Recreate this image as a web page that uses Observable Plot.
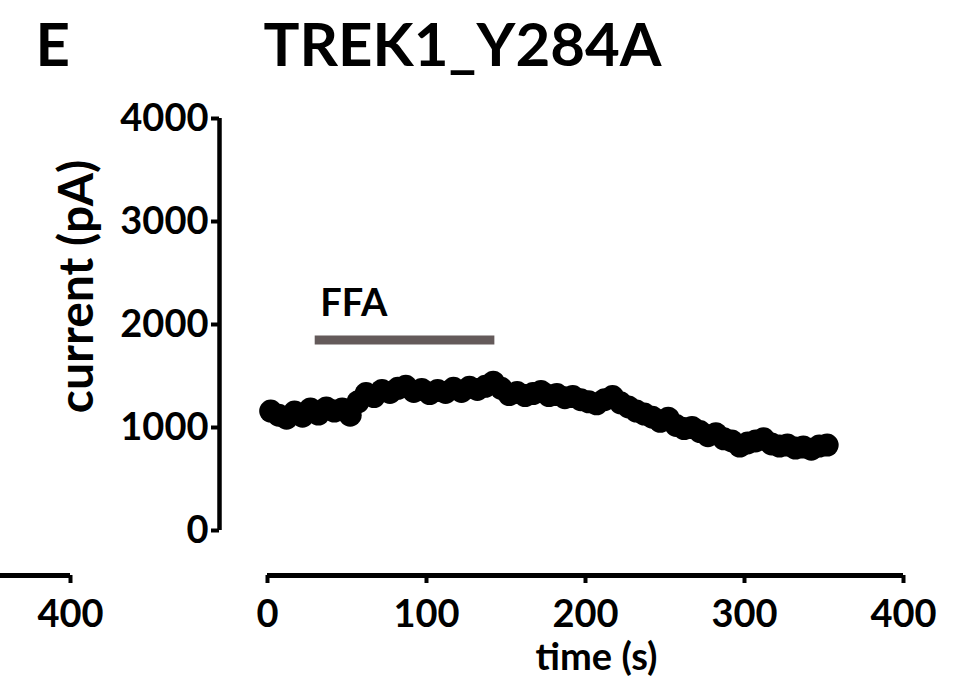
<!DOCTYPE html>
<html>
<head>
<meta charset="utf-8">
<script src="https://cdn.jsdelivr.net/npm/d3@7"></script>
<script src="https://cdn.jsdelivr.net/npm/@observablehq/plot@0.6"></script>
<style>
  body { margin: 0; background: #fff; }
  #chart { position: relative; width: 971px; height: 696px; overflow: hidden; }
  #chart svg { position: absolute; left: 0; top: 0; }
</style>
</head>
<body>
<div id="chart"></div>
<script>
// Whole-cell current of TREK1_Y284A recorded over time, FFA applied ~30–143 s
const timeS = [
  2, 7, 12, 17, 22, 27, 32, 37, 42, 47,
  52, 57, 62, 67, 72, 77, 82, 87, 92, 97,
  102, 107, 112, 117, 122, 127, 132, 137, 142, 147,
  152, 157, 162, 167, 172, 177, 182, 187, 192, 197,
  202, 207, 212, 217, 222, 227, 232, 237, 242, 247,
  252, 257, 262, 267, 272, 277, 282, 287, 292, 297,
  302, 307, 312, 317, 322, 327, 332, 337, 342, 347, 352
];
const currentPA = [
  1160, 1120, 1090, 1150, 1110, 1180, 1130, 1190, 1160, 1180,
  1120, 1250, 1330, 1300, 1360, 1340, 1380, 1400, 1350, 1370,
  1330, 1360, 1340, 1380, 1350, 1390, 1370, 1400, 1440, 1380,
  1320, 1340, 1310, 1330, 1350, 1310, 1320, 1290, 1300, 1270,
  1250, 1230, 1270, 1300, 1240, 1200, 1160, 1130, 1100, 1060,
  1090, 1020, 990, 1000, 960, 920, 940, 890, 870, 820,
  850, 870, 890, 840, 820, 830, 800, 810, 790, 820, 830
];
const xTicks = [0, 100, 200, 300, 400];
const yTicks = [0, 1000, 2000, 3000, 4000];
const drugName = "FFA";
const drugStart = 30;
const drugEnd = 143;
const drugLevel = 1850;
const titleText = "TREK1_Y284A";
const panelLetter = "E";
const xLabel = "time (s)";
const yLabel = "current (pA)";
// neighbouring panel's time axis, only its right end is visible
const prevPanelX = [356, 400];
const prevPanelTicks = [400];

const series = timeS.map((t, i) => ({t, i: currentPA[i]}));
const drug = [{start: drugStart, end: drugEnd, level: drugLevel, name: drugName}];

const font = "Lato, 'Open Sans', sans-serif";
const axisStyle = {fontSize: 38, fontWeight: 700, label: null, strokeWidth: 4, tickFormat: d => String(d)};

const side = Plot.plot({
  width: 110, height: 696,
  marginLeft: 0, marginRight: 40, marginTop: 118, marginBottom: 166,
  x: {domain: prevPanelX},
  y: {domain: [0, 4000], axis: null},
  style: {fontFamily: font, fontWeight: 700, background: "none", color: "#000", overflow: "visible"},
  marks: [
    Plot.ruleY([0], {x1: prevPanelX[0], x2: prevPanelX[1], dy: 45, strokeWidth: 5}),
    Plot.axisX({...axisStyle, ticks: prevPanelTicks, tickSize: 8, tickPadding: 17, dy: 45})
  ]
});

const main = Plot.plot({
  width: 971, height: 696,
  marginLeft: 267, marginRight: 68, marginTop: 118, marginBottom: 166,
  x: {domain: [0, 400]},
  y: {domain: [0, 4000]},
  style: {fontFamily: font, fontWeight: 700, background: "none", color: "#000", overflow: "visible"},
  marks: [
    // offset axes
    Plot.ruleX([0], {y1: 0, y2: 4000, dx: -48, strokeWidth: 4.5}),
    Plot.axisY({...axisStyle, ticks: yTicks, tickSize: 8, tickPadding: 3, dx: -48}),
    Plot.ruleY([0], {x1: 0, x2: 400, dy: 45, strokeWidth: 5}),
    Plot.axisX({...axisStyle, ticks: xTicks, tickSize: 8, tickPadding: 17, dy: 45}),
    // drug application bar
    Plot.ruleY(drug, {x1: "start", x2: "end", y: "level", stroke: "#645a5a", strokeWidth: 9}),
    Plot.text(drug, {x: "start", y: "level", text: "name", textAnchor: "start", dx: 5, dy: -36,
      fontSize: 38, fontWeight: 700}),
    // recorded current
    Plot.dot(series, {x: "t", y: "i", r: 11.5, fill: "#000", stroke: "none"}),
    // titles
    Plot.text([titleText], {frameAnchor: "top-left", dx: 195, dy: -53, lineAnchor: "bottom",
      textAnchor: "middle", fontSize: 60, fontWeight: 700}),
    Plot.text([panelLetter], {frameAnchor: "top-left", dx: -232, dy: -53, lineAnchor: "bottom",
      textAnchor: "start", fontSize: 60, fontWeight: 700}),
    Plot.text([xLabel], {frameAnchor: "bottom", dx: 11, dy: 127, lineAnchor: "middle",
      fontSize: 38, fontWeight: 700}),
    Plot.text([yLabel], {frameAnchor: "left", dx: -190, dy: -38, rotate: -90, lineAnchor: "middle",
      textAnchor: "middle", fontSize: 48, fontWeight: 700})
  ]
});

const root = document.getElementById("chart");
root.append(side, main);
</script>
</body>
</html>
